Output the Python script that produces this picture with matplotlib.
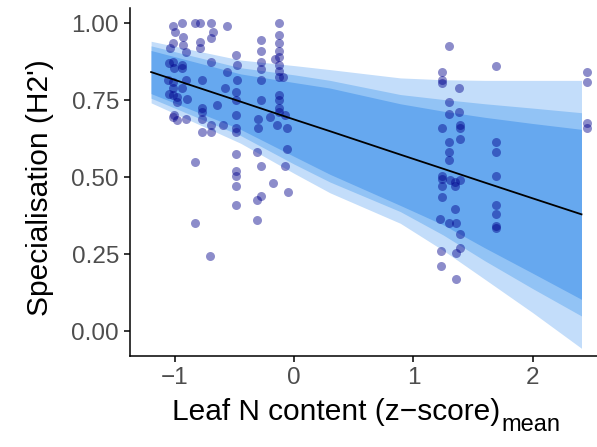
import matplotlib
matplotlib.use("Agg")
import matplotlib.pyplot as plt
import numpy as np

plt.rcParams['font.family'] = ['Liberation Sans', 'DejaVu Sans']

# observed species: mean leaf N (z-score) vs specialisation H2'
leaf_n = [
    -1.02, -1.00, -1.02, -1.04, -1.02, -1.01, -1.02, -1.02, -1.02, -0.98, -0.98, -1.01,
    -1.05, -1.06, -1.05, -1.02, -0.98,
    -0.94, -0.93, -0.93, -0.91, -0.94, -0.94, -0.91, -0.94, -0.90, -0.91,
    -0.83, -0.83, -0.83,
    -0.79, -0.79, -0.79, -0.77, -0.77, -0.77, -0.77, -0.77,
    -0.70, -0.70, -0.68, -0.70, -0.70, -0.70, -0.71,
    -0.65,
    -0.56, -0.56, -0.58, -0.60,
    -0.49, -0.48, -0.48, -0.49, -0.49, -0.49, -0.49, -0.49, -0.49, -0.49, -0.49, -0.49, -0.49,
    -0.28, -0.28, -0.28, -0.28, -0.28, -0.28, -0.30, -0.30, -0.31, -0.28, -0.28, -0.31, -0.31,
    -0.20, -0.18,
    -0.13, -0.13, -0.13, -0.13, -0.13, -0.16, -0.13, -0.13, -0.13, -0.13, -0.13, -0.13, -0.13, -0.14,
    -0.09, -0.08, -0.06, -0.06, -0.08, -0.05,
    1.24, 1.24, 1.24, 1.24, 1.24, 1.24, 1.24, 1.24, 1.22, 1.23, 1.23,
    1.30, 1.30, 1.30, 1.30, 1.30, 1.30, 1.31, 1.30,
    1.35, 1.35, 1.35, 1.36, 1.36, 1.36,
    1.38, 1.38, 1.39, 1.39, 1.39, 1.39, 1.39, 1.39,
    1.69, 1.69, 1.69, 1.69, 1.69, 1.69, 1.69, 1.69,
    2.46, 2.46, 2.46, 2.46,
]
h2 = [
    0.99, 0.97, 0.935, 0.92, 0.875, 0.855, 0.81, 0.79, 0.765, 0.76, 0.745, 0.70,
    0.87, 0.815, 0.77, 0.695, 0.685,
    1.00, 0.955, 0.93, 0.905, 0.865, 0.855, 0.815, 0.79, 0.755, 0.69,
    1.00, 0.55, 0.35,
    1.00, 0.94, 0.92, 0.815, 0.725, 0.71, 0.69, 0.645,
    1.00, 0.95, 0.97, 0.875, 0.67, 0.645, 0.245,
    0.735,
    0.99, 0.84, 0.79, 0.67,
    0.895, 0.865, 0.815, 0.775, 0.75, 0.70, 0.66, 0.645, 0.575, 0.52, 0.505, 0.47, 0.41,
    0.945, 0.91, 0.875, 0.85, 0.815, 0.75, 0.69, 0.66, 0.58, 0.535, 0.44, 0.425, 0.36,
    0.695, 0.48,
    1.00, 0.96, 0.935, 0.91, 0.89, 0.885, 0.865, 0.845, 0.825, 0.765, 0.75, 0.725, 0.71, 0.67,
    0.825, 0.70, 0.66, 0.59, 0.535, 0.45,
    0.84, 0.815, 0.805, 0.66, 0.505, 0.495, 0.47, 0.435, 0.365, 0.26, 0.21,
    0.925, 0.745, 0.705, 0.615, 0.58, 0.555, 0.49, 0.35,
    0.485, 0.47, 0.395, 0.35, 0.255, 0.17,
    0.79, 0.71, 0.67, 0.66, 0.625, 0.49, 0.315, 0.27,
    0.86, 0.615, 0.58, 0.505, 0.41, 0.38, 0.34, 0.335,
    0.84, 0.81, 0.675, 0.66,
]

# posterior fit: mean line and credible bands at a few leaf N values
fit_x = [-1.2, -0.45, 0.0, 0.3, 0.89, 1.25, 1.6, 2.0, 2.41]
fit_mean = [0.841, 0.745, 0.687, 0.649, 0.573, 0.527, 0.482, 0.431, 0.379]
band_outer = ([0.741, 0.610, 0.512, 0.449, 0.350, 0.262, 0.168, 0.060, -0.056],
              [0.941, 0.880, 0.862, 0.849, 0.822, 0.816, 0.814, 0.814, 0.814])
band_mid = ([0.756, 0.635, 0.542, 0.484, 0.388, 0.312, 0.228, 0.138, 0.049],
            [0.926, 0.855, 0.832, 0.814, 0.768, 0.752, 0.738, 0.724, 0.709])
band_inner = ([0.771, 0.655, 0.567, 0.509, 0.408, 0.345, 0.270, 0.188, 0.103],
              [0.911, 0.835, 0.807, 0.789, 0.738, 0.714, 0.694, 0.674, 0.655])

fig = plt.figure(figsize=(5.97, 4.47), dpi=100)
ax = fig.add_axes([130 / 597, 91 / 447, 467 / 597, 348 / 447])

for (lo, hi), col in zip([band_outer, band_mid, band_inner],
                         ['#c3ddfa', '#92c3f5', '#66a8ef']):
    ax.fill_between(fit_x, lo, hi, color=col, lw=0, zorder=1)

ax.scatter(leaf_n, h2, s=42, color='#00008b', alpha=0.45, lw=0, zorder=2)
ax.plot(fit_x, fit_mean, color='black', lw=1.3, zorder=3)

ax.set_xlim(-1.377, 2.54)
ax.set_ylim(-0.081, 1.049)
ax.set_xticks([-1, 0, 1, 2])
ax.set_yticks([0, 0.25, 0.5, 0.75, 1.0])
ax.set_yticklabels(['0.00', '0.25', '0.50', '0.75', '1.00'])

for side in ['top', 'right']:
    ax.spines[side].set_visible(False)
for side in ['left', 'bottom']:
    ax.spines[side].set_linewidth(1.1)
ax.tick_params(length=4.5, width=1.1, pad=3.5, labelsize=17.5, labelcolor='#4d4d4d')

fig.text(40 / 597, 1 - 188 / 447, "Specialisation (H2')", rotation=90,
         ha='center', va='center', fontsize=21.5)
fig.text(500 / 597, 1 - 420 / 447, "Leaf N content (z\u2212score)",
         ha='right', va='baseline', fontsize=21.5)
fig.text(501 / 597, 1 - 431 / 447, "mean", ha='left', va='baseline', fontsize=17)

fig.savefig('out.png', dpi=100)
